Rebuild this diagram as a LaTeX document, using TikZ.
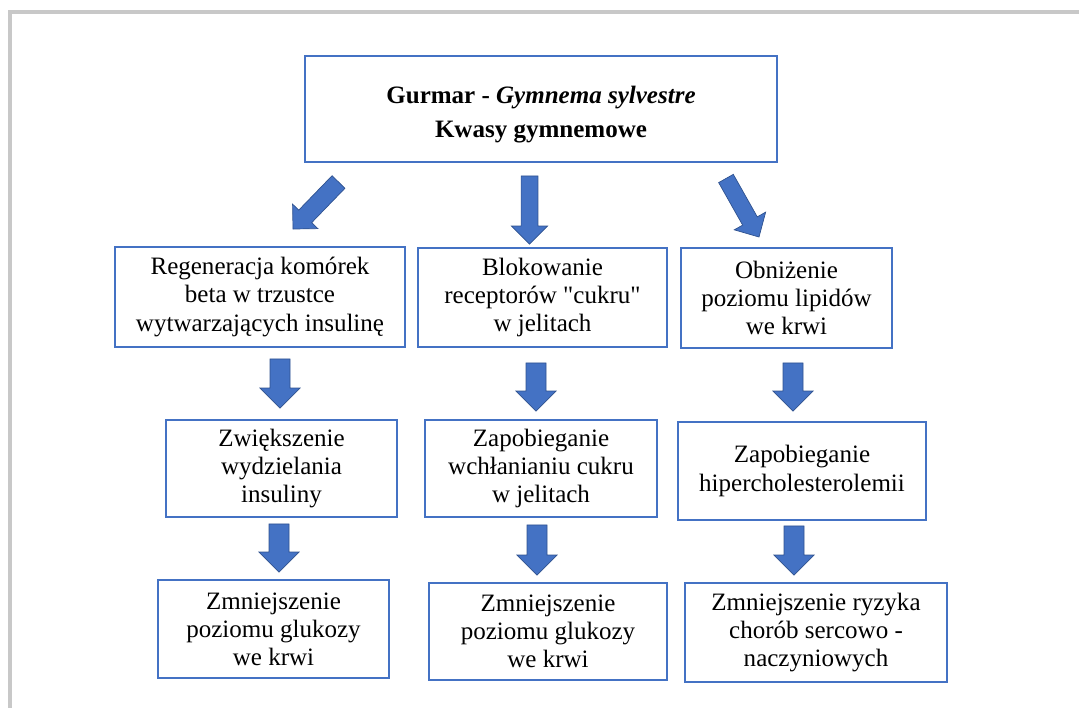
\documentclass[tikz,border=0pt]{standalone}
\usepackage{fontspec}
\setmainfont{Liberation Serif}
\usetikzlibrary{positioning, calc}
\definecolor{boxblue}{HTML}{4472C4}
\definecolor{arrowedge}{HTML}{2F528F}
\definecolor{framegray}{HTML}{C8C8C8}

% strzałka blokowa: początek, koniec, pół trzonu, pół grotu, długość grotu
\newcommand{\blockarrow}[5]{%
  \coordinate (ba-h) at ($(#2)!#5!(#1)$);
  \filldraw[bigarrow] ($(#1)!#3!90:(#2)$) -- ($(ba-h)!#3!90:(#2)$) -- ($(ba-h)!#4!90:(#2)$)
    -- (#2) -- ($(ba-h)!#4!-90:(#2)$) -- ($(ba-h)!#3!-90:(#2)$) -- ($(#1)!#3!-90:(#2)$) -- cycle;
}

\begin{document}
\begin{tikzpicture}[
  pbox/.style={draw=boxblue, line width=1.4pt, align=center, inner sep=0pt,
    font=\fontsize{17.8pt}{20pt}\selectfont},
  bigarrow/.style={fill=boxblue, draw=arrowedge, line width=0.5pt, line join=miter}]
  \useasboundingbox (0,0) rectangle (26.975,-17.7);
  % ramka
  \draw[framegray, line width=0.1cm] (0.25,-17.7) -- (0.25,-0.3) -- (26.975,-0.3);

  % blok główny
  \node[pbox, minimum width=11.8cm, minimum height=2.65cm,
    font=\bfseries\fontsize{17.8pt}{23.5pt}\selectfont] (top) at (13.525,-2.725)
    {\rule{0pt}{20.3pt}Gurmar - \textit{Gymnema sylvestre}\\Kwasy gymnemowe};

  % pierwszy rząd
  \node[pbox, minimum width=7.25cm, minimum height=2.5cm] (regen) at (6.5,-7.425)
    {Regeneracja komórek\\beta w trzustce\\wytwarzających insulinę};
  \node[pbox, minimum width=6.225cm, minimum height=2.475cm] (block) at (13.5625,-7.4375)
    {Blokowanie\\receptorów \textquotedbl cukru\textquotedbl\\w jelitach};
  \node[pbox, minimum width=5.275cm, minimum height=2.5cm] (lipid) at (19.6625,-7.45)
    {Obniżenie\\poziomu lipidów\\we krwi};

  % drugi rząd
  \node[pbox, minimum width=5.775cm, minimum height=2.425cm] (secr) at (7.0375,-11.7125)
    {Zwiększenie\\wydzielania\\insuliny};
  \node[pbox, minimum width=5.8cm, minimum height=2.425cm] (absorb) at (13.525,-11.7125)
    {Zapobieganie\\wchłanianiu cukru\\w jelitach};
  \node[pbox, minimum width=6.2cm, minimum height=2.45cm] (chol) at (20.05,-11.775)
    {Zapobieganie\\hipercholesterolemii};

  % trzeci rząd
  \node[pbox, minimum width=5.775cm, minimum height=2.45cm] (gluc1) at (6.8375,-15.725)
    {Zmniejszenie\\poziomu glukozy\\we krwi};
  \node[pbox, minimum width=5.95cm, minimum height=2.425cm] (gluc2) at (13.7,-15.7875)
    {Zmniejszenie\\poziomu glukozy\\we krwi};
  \node[pbox, minimum width=6.55cm, minimum height=2.475cm] (heart) at (20.4,-15.8125)
    {Zmniejszenie ryzyka\\chorób sercowo -\\naczyniowych};

  % strzałki z bloku głównego
  \coordinate (a1s) at ($(top.south west)+(0.8625,-0.475)$);
  \coordinate (a1e) at ($(regen.north east)+(-2.825,0.425)$);
  \blockarrow{a1s}{a1e}{0.225cm}{0.44cm}{0.44cm}
  \coordinate (a2s) at ($(top.south)+(-0.2875,-0.325)$);
  \coordinate (a2e) at ($(a2s |- block.north)+(0,0.075)$);
  \blockarrow{a2s}{a2e}{0.21cm}{0.45cm}{0.45cm}
  \coordinate (a3s) at ($(top.south east)+(-1.3,-0.3875)$);
  \coordinate (a3e) at ($(lipid.north)+(-0.6875,0.25)$);
  \blockarrow{a3s}{a3e}{0.21cm}{0.45cm}{0.46cm}

  % strzałki w dół
  \foreach \from/\to/\dx/\ds/\de in {regen/secr/0.5/0.275/0.275, block/absorb/-0.1625/0.375/0.2,
      lipid/chol/0.1625/0.35/0.25, secr/gluc1/-0.0625/0.15/0.175,
      absorb/gluc2/-0.1/0.175/0.175, chol/heart/-0.2/0.125/0.175} {
    \coordinate (s) at ($(\from.south)+(\dx,-\ds)$);
    \coordinate (e) at ($(s |- \to.north)+(0,\de)$);
    \blockarrow{s}{e}{0.25cm}{0.5cm}{0.5cm}
  }
\end{tikzpicture}
\end{document}
